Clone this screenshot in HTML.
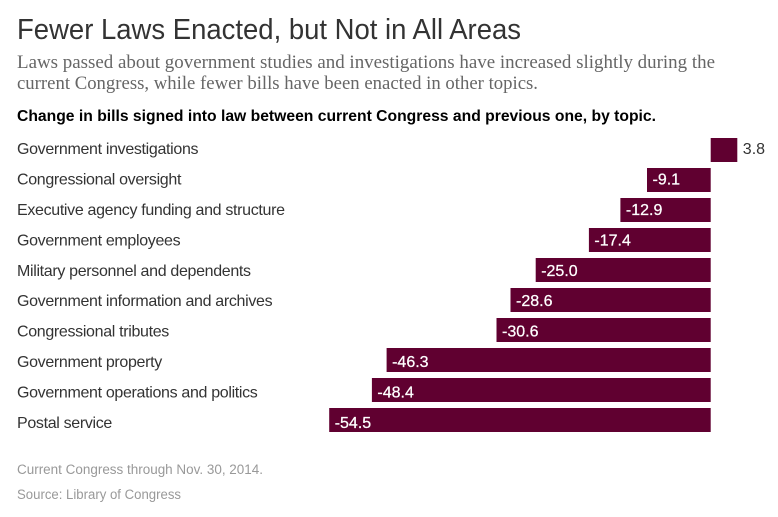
<!DOCTYPE html>
<html lang="en">
<head>
<meta charset="utf-8">
<title>Fewer Laws Enacted, but Not in All Areas</title>
<style>
html,body{margin:0;padding:0;background:#fff;}
body{width:778px;height:517px;overflow:hidden;position:relative;}
svg{display:block;position:absolute;left:0;top:0;}
text{font-family:"Liberation Sans",sans-serif;}
.title{font-size:29px;fill:#333;}
.sub{font-family:"Liberation Serif",serif;font-size:18.5px;fill:#666;}
.lead{font-size:15.5px;font-weight:bold;fill:#000;}
.cat{font-size:16px;letter-spacing:-0.33px;fill:#333;}
.val{font-size:16px;}
.val-in{stroke:#fff;stroke-width:0.25px;}
.note{font-size:13.5px;fill:#999;}
</style>
</head>
<body>
<svg id="chart" width="778" height="517" viewBox="0 0 778 517" xmlns="http://www.w3.org/2000/svg">
<text class="title" x="17" y="39" textLength="504" lengthAdjust="spacingAndGlyphs">Fewer Laws Enacted, but Not in All Areas</text>
<text class="sub" x="17" y="68" textLength="698" lengthAdjust="spacingAndGlyphs">Laws passed about government studies and investigations have increased slightly during the</text>
<text class="sub" x="17" y="89" textLength="521" lengthAdjust="spacingAndGlyphs">current Congress, while fewer bills have been enacted in other topics.</text>
<text class="lead" x="17" y="121" textLength="639" lengthAdjust="spacingAndGlyphs">Change in bills signed into law between current Congress and previous one, by topic.</text>
<g id="rows"></g>
<text class="note" x="17" y="474" textLength="246" lengthAdjust="spacingAndGlyphs">Current Congress through Nov. 30, 2014.</text>
<text class="note" x="17" y="499" textLength="164" lengthAdjust="spacingAndGlyphs">Source: Library of Congress</text>
</svg>
<script>
const categories = [
  "Government investigations",
  "Congressional oversight",
  "Executive agency funding and structure",
  "Government employees",
  "Military personnel and dependents",
  "Government information and archives",
  "Congressional tributes",
  "Government property",
  "Government operations and politics",
  "Postal service"
];
const values = [3.8, -9.1, -12.9, -17.4, -25.0, -28.6, -30.6, -46.3, -48.4, -54.5];

const NS = "http://www.w3.org/2000/svg";
const zeroX = 710.7;
const pxPerUnit = 7;
const firstTop = 138;
const rowStep = 30;
const barH = 24;
const labelBase = 154;
const labelStep = 30.44;
const xScale = v => zeroX + v * pxPerUnit;
const yScale = i => firstTop + i * rowStep;
const rows = document.getElementById("rows");

categories.forEach((cat, i) => {
  const v = values[i];
  const top = yScale(i);
  const baseline = labelBase + i * labelStep;
  const slug = cat.toLowerCase().replace(/[^a-z]+/g, "-");

  const label = document.createElementNS(NS, "text");
  label.setAttribute("class", "cat");
  label.setAttribute("x", 17);
  label.setAttribute("y", baseline);
  label.textContent = cat;
  
  
  rows.appendChild(label);

  const left = Math.min(xScale(0), xScale(v));
  const rect = document.createElementNS(NS, "rect");
  rect.setAttribute("x", left);
  rect.setAttribute("y", top);
  rect.setAttribute("width", Math.abs(xScale(v) - xScale(0)));
  rect.setAttribute("height", barH);
  rect.setAttribute("fill", "#600030");
  
  
  rows.appendChild(rect);

  const val = document.createElementNS(NS, "text");
  val.setAttribute("y", baseline);
  if (v < 0) {
    val.setAttribute("class", "val val-in");
    val.setAttribute("x", left + 5.5);
    val.setAttribute("fill", "#fff");
  } else {
    val.setAttribute("class", "val");
    val.setAttribute("x", xScale(v) + 5.5);
    val.setAttribute("fill", "#333");
  }
  val.textContent = v.toFixed(1);
  
  
  rows.appendChild(val);
});
</script>
</body>
</html>
